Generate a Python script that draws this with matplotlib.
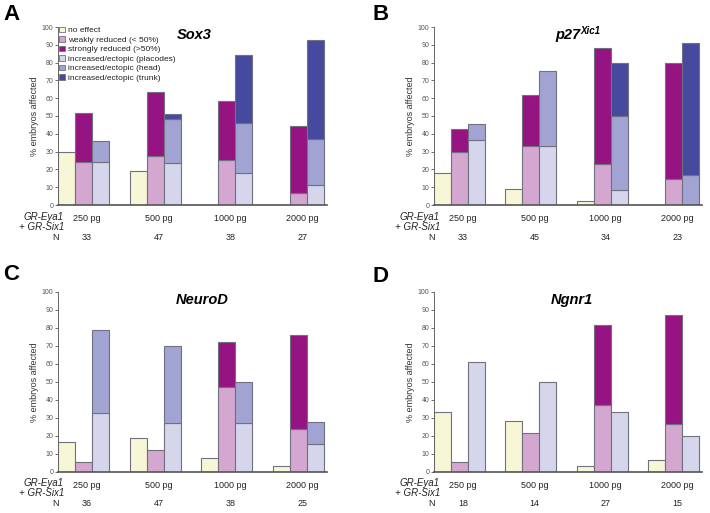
import numpy as np
import matplotlib
matplotlib.use('Agg')
from matplotlib import pyplot as plt
from matplotlib.patches import Patch

plt.rcParams['font.family'] = ['Liberation Sans', 'DejaVu Sans']

doses = ['250 pg', '500 pg', '1000 pg', '2000 pg']
categories = ['no effect', 'weakly reduced (< 50%)', 'strongly reduced (>50%)',
              'increased/ectopic (placodes)', 'increased/ectopic (head)',
              'increased/ectopic (trunk)']
colors = ['#f7f6d6', '#d4a7d0', '#961482', '#d5d6eb', '#a1a3d3', '#464a9f']

# segment heights (%) per dose
sox3_no_effect = [30, 19, 0, 0]
sox3_weak = [24, 27.5, 25.5, 7]
sox3_strong = [27.5, 36, 33, 37.5]
sox3_placodes = [24, 23.5, 18, 11]
sox3_head = [12, 25, 28, 26]
sox3_trunk = [0, 2.5, 38.5, 55.5]
sox3_n = [33, 47, 38, 27]

p27_no_effect = [18, 9, 2.5, 0]
p27_weak = [30, 33, 23, 14.5]
p27_strong = [12.5, 29, 65, 65.5]
p27_placodes = [36.5, 33, 8.5, 0]
p27_head = [9, 42.5, 41.5, 17]
p27_trunk = [0, 0, 29.5, 74]
p27_n = [33, 45, 34, 23]

neurod_no_effect = [16.5, 19, 8, 3.5]
neurod_weak = [5.5, 12.5, 47, 24]
neurod_strong = [0, 0, 25, 52]
neurod_placodes = [33, 27.5, 27.5, 15.5]
neurod_head = [46, 42.5, 22.5, 12]
neurod_trunk = [0, 0, 0, 0]
neurod_n = [36, 47, 38, 25]

ngnr1_no_effect = [33.5, 28.5, 3.5, 6.5]
ngnr1_weak = [5.5, 21.5, 37, 26.5]
ngnr1_strong = [0, 0, 44.5, 60.5]
ngnr1_placodes = [61, 50, 33.5, 20]
ngnr1_head = [0, 0, 0, 0]
ngnr1_trunk = [0, 0, 0, 0]
ngnr1_n = [18, 14, 27, 15]

panels = [
    ('A', 'Sox3', [sox3_no_effect, sox3_weak, sox3_strong, sox3_placodes, sox3_head, sox3_trunk], sox3_n),
    ('B', 'p27', [p27_no_effect, p27_weak, p27_strong, p27_placodes, p27_head, p27_trunk], p27_n),
    ('C', 'NeuroD', [neurod_no_effect, neurod_weak, neurod_strong, neurod_placodes, neurod_head, neurod_trunk], neurod_n),
    ('D', 'Ngnr1', [ngnr1_no_effect, ngnr1_weak, ngnr1_strong, ngnr1_placodes, ngnr1_head, ngnr1_trunk], ngnr1_n),
]

W, H = 710, 513
fig = plt.figure(figsize=(7.1, 5.13), dpi=100)

# axes boxes in pixels: left, right, y of 0, y of 100
boxes = [(58, 327, 205, 27), (434, 702, 205, 27),
         (58, 327, 472, 292), (434, 702, 472, 292)]
# panel letter positions (px) and title x (axes fraction)
letter_pos = [(3, 15), (372, 15), (3, 275), (372, 276)]
title_x = [0.505, 0.545, 0.535, 0.515]

bw = 0.237
edge = '#70707e'
x = np.arange(len(doses))
txt = '#222222'

for (letter, title, segs, nvals), (l, r, y0, y1), (lx, ly), tx in zip(panels, boxes, letter_pos, title_x):
    ax = fig.add_axes([l / W, 1 - y0 / H, (r - l) / W, (y0 - y1) / H])
    # bar 1 -> no effect, bar 2 -> weak+strong, bar 3 -> placodes+head+trunk
    stacks = [(x - bw, [0]), (x, [1, 2]), (x + bw, [3, 4, 5])]
    for xs, idxs in stacks:
        bottom = np.zeros(len(doses))
        for k in idxs:
            vals = np.array(segs[k], dtype=float)
            m = vals > 0
            ax.bar(xs[m], vals[m], bw, bottom=bottom[m], color=colors[k],
                   edgecolor=edge, linewidth=0.8, zorder=2)
            bottom += vals
    ax.set_xlim(-1.5 * bw, 3 + 1.5 * bw + 0.04)
    ax.set_ylim(0, 100)
    ax.set_yticks(np.arange(0, 101, 10))
    ax.set_xticks([])
    ax.tick_params(axis='y', length=2.5, width=0.6, colors='#555555',
                   labelsize=5, pad=1)
    for s in ['top', 'right']:
        ax.spines[s].set_visible(False)
    ax.spines['left'].set_color('#666666')
    ax.spines['left'].set_linewidth(0.7)
    ax.spines['bottom'].set_color('#555555')
    ax.spines['bottom'].set_linewidth(1.2)
    ax.set_ylabel('% embryos affected', fontsize=6.5, color='#333333', labelpad=2)

    ph = y0 - y1
    pw = r - l
    shift = 3.5 / pw * (3 + 3 * bw + 0.04)
    trans = ax.get_xaxis_transform()
    for i in range(len(doses)):
        ax.text(x[i] + shift, -13.5 / ph, doses[i], transform=trans, ha='center',
                va='center', fontsize=6.5, color=txt)
        ax.text(x[i] + shift, -32 / ph, str(nvals[i]), transform=trans,
                ha='center', va='center', fontsize=6.5, color=txt)
    ax.text(6 / pw, -11.5 / ph, 'GR-Eya1', transform=ax.transAxes,
            ha='right', va='center', fontsize=7, style='italic', color=txt)
    ax.text(6 / pw, -21.5 / ph, '+ GR-Six1', transform=ax.transAxes,
            ha='right', va='center', fontsize=7, style='italic', color=txt)
    ax.text(1 / pw, -32 / ph, 'N', transform=ax.transAxes,
            ha='right', va='center', fontsize=6.5, color=txt)

    if title == 'p27':
        ax.text(tx, 0.955, 'p27', transform=ax.transAxes, ha='right',
                va='center', fontsize=10.5, weight='bold', style='italic')
        ax.text(tx + 0.002, 0.975, 'Xic1', transform=ax.transAxes, ha='left',
                va='center', fontsize=7, weight='bold', style='italic')
    else:
        ax.text(tx, 0.955, title, transform=ax.transAxes, ha='center',
                va='center', fontsize=10.5, weight='bold', style='italic')

    fig.text(lx / W, 1 - ly / H, letter, ha='left', va='center',
             fontsize=16, weight='bold')

    if letter == 'A':
        handles = [Patch(facecolor=c, edgecolor=edge, linewidth=0.6) for c in colors]
        ax.legend(handles, categories, loc='upper left',
                  bbox_to_anchor=(-0.015, 1.03), frameon=False, fontsize=6.0,
                  handlelength=0.7, handleheight=0.7, handletextpad=0.35,
                  labelspacing=0.2, borderaxespad=0.2, labelcolor=txt)

fig.savefig('out.png', dpi=100)
